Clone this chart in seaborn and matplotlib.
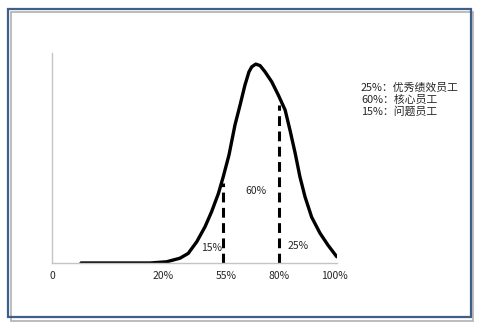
import matplotlib
matplotlib.use("Agg")
import matplotlib.pyplot as plt
import seaborn as sns
import pandas as pd
from matplotlib.patches import Rectangle

# ---- data (x: 0-100 axis units, y: 0-70 height units)
curve_x = [10.2, 34.4, 40.2, 44.9, 47.8, 50.8, 53.7, 56.0, 58.4, 60.1, 62.1, 64.2,
           66.0, 67.7, 69.1, 70.1, 71.5, 73.0, 74.7, 77.1, 79.4, 81.8, 83.5, 85.3,
           87.0, 88.8, 91.1, 94.0, 96.8, 99.9]
curve_y = [0.0, 0.0, 0.4, 1.6, 3.2, 7.1, 12.1, 17.1, 23.2, 28.8, 36.0, 46.0,
           52.7, 59.3, 63.7, 65.4, 66.3, 65.8, 63.8, 60.4, 56.0, 51.0, 44.3, 36.7,
           28.7, 22.0, 15.3, 10.0, 6.0, 2.1]

cut_x = [60.0, 79.6]
cut_top = [26.7, 52.7]

tick_pos = [0, 39, 61, 79.6, 99]
tick_labels = ["0", "20%", "55%", "80%", "100%"]

share_labels = ["15%", "60%", "25%"]
share_x = [56.1, 71.6, 86.3]
share_y = [5.0, 24.0, 5.7]

legend_lines = ["25%：优秀绩效员工", "60%：核心员工", "15%：问题员工"]

sns.set_style("white")
plt.rcParams["font.family"] = ["Noto Sans CJK SC", "DejaVu Sans"]

W, H = 479, 325
fig = plt.figure(figsize=(W / 100, H / 100), dpi=100)
fig.patch.set_facecolor("white")
ax = fig.add_axes([52 / W, (H - 263) / H, (337 - 52) / W, (263 - 53) / H])

df = pd.DataFrame({"x": curve_x, "y": curve_y})
sns.lineplot(data=df, x="x", y="y", ax=ax, color="black", lw=2.4,
             sort=False, estimator=None)
ax.lines[-1].set_solid_capstyle("round")
ax.lines[-1].set_solid_joinstyle("round")

for cx, ct in zip(cut_x, cut_top):
    ax.plot([cx, cx], [0, ct], color="black", lw=2.2, ls=(0, (3.2, 1.8)),
            solid_capstyle="butt")

ax.set_xlim(0, 100)
ax.set_ylim(0, 70)
ax.set_xticks(tick_pos)
ax.set_xticklabels(tick_labels, fontsize=7.5)
ax.set_yticks([])
ax.tick_params(axis="x", length=0, pad=6)
ax.set_xlabel("")
ax.set_ylabel("")
for s in ["top", "right"]:
    ax.spines[s].set_visible(False)
for s in ["left", "bottom"]:
    ax.spines[s].set_color("#c4c4c4")
    ax.spines[s].set_linewidth(1.0)

for t, x, y in zip(share_labels, share_x, share_y):
    ax.text(x, y, t, fontsize=7.5, ha="center", va="center")

for i, t in enumerate(legend_lines):
    fig.text(361 / W, 1 - (88 + i * 11.7) / H, t, fontsize=7.8,
             ha="left", va="center")

# frame with shadow
fig.add_artist(Rectangle((11 / W, (H - 320.5) / H), (473 - 11) / W, (320.5 - 12) / H,
                         transform=fig.transFigure, fill=False,
                         edgecolor="#b0b0b0", lw=1.2))
fig.add_artist(Rectangle((8 / W, (H - 317) / H), (471 - 8) / W, (317 - 9) / H,
                         transform=fig.transFigure, fill=False,
                         edgecolor="#3e5f8c", lw=1.6))

fig.savefig("out.png", dpi=100)
